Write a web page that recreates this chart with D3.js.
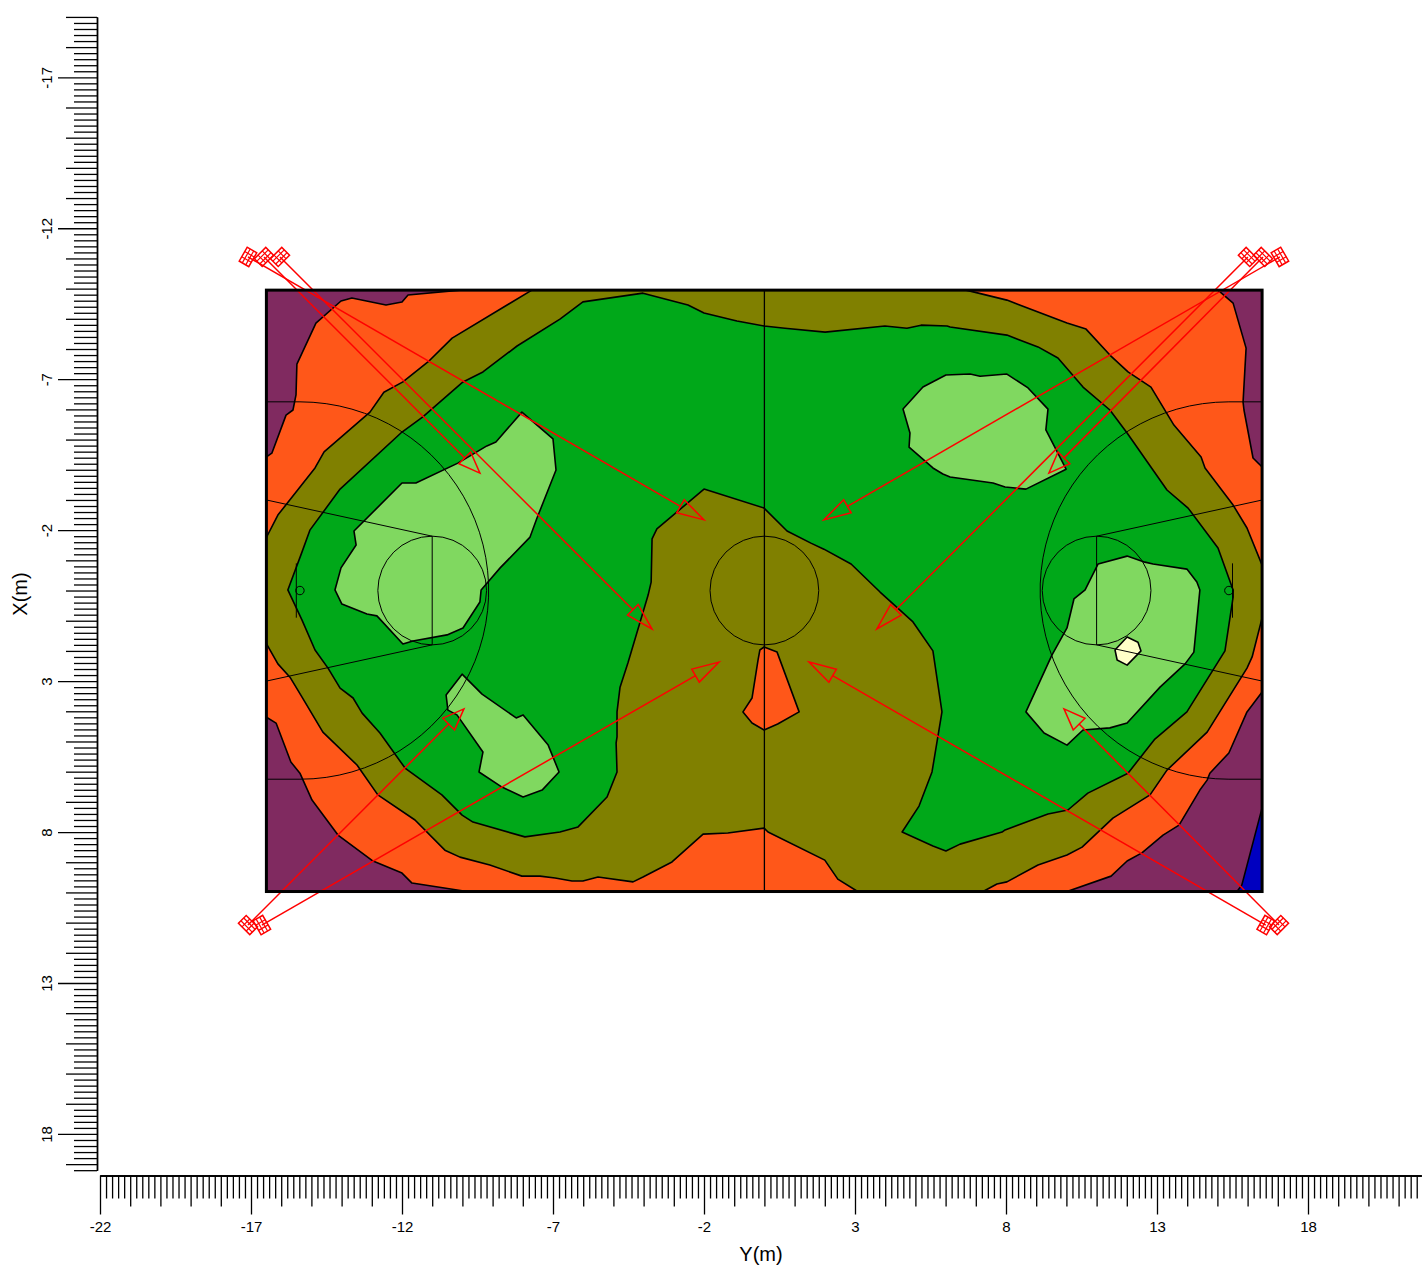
<!DOCTYPE html>
<html><head><meta charset="utf-8">
<script src="https://cdn.jsdelivr.net/npm/d3@7/dist/d3.min.js"></script>
<style>html,body{margin:0;padding:0;background:#fff}svg{display:block}text{font-family:"Liberation Sans",Arial,sans-serif;fill:#000}</style>
</head><body><svg id="c" width="1422" height="1267"></svg>
<script>
// Y(m), X(m) vertices
const fieldY=[-16.49,16.48], fieldX=[-9.95,9.97];
const orangeBand=[[-10.08,-9.95],[-11.80,-9.79],[-12.00,-9.56],[-12.53,-9.46],[-13.66,-9.69],[-14.02,-9.59],[-14.85,-8.86],[-15.48,-7.50],[-15.51,-6.48],[-15.61,-5.98],[-15.84,-5.81],[-16.31,-4.55],[-16.50,-4.42],[-16.50,4.19],[-16.17,4.39],[-15.68,5.68],[-15.38,6.05],[-14.98,6.94],[-14.12,8.10],[-12.96,8.96],[-12.00,9.36],[-11.67,9.69],[-9.85,9.97],[10.02,9.97],[11.48,9.46],[12.01,8.96],[12.50,8.69],[13.20,8.10],[13.73,7.77],[14.42,6.61],[14.66,6.28],[14.75,6.05],[15.38,5.38],[15.98,4.02],[16.48,3.36],[16.48,-4.09],[16.18,-4.39],[15.88,-5.98],[15.85,-6.24],[15.95,-8.03],[15.52,-9.52],[15.02,-9.95]];
const oliveBand=[[-7.70,-9.95],[-10.34,-8.36],[-11.14,-7.57],[-11.97,-6.91],[-12.60,-6.57],[-13.06,-5.91],[-14.58,-4.59],[-14.88,-4.06],[-16.11,-2.50],[-16.50,-1.74],[-16.50,1.74],[-16.11,2.43],[-15.71,2.87],[-15.31,3.53],[-14.62,4.69],[-13.49,5.78],[-12.80,6.77],[-11.57,7.60],[-10.58,8.60],[-10.08,8.83],[-9.09,9.09],[-8.03,9.46],[-7.43,9.46],[-6.93,9.52],[-6.37,9.62],[-6.01,9.62],[-5.51,9.49],[-4.35,9.65],[-4.02,9.49],[-3.06,8.99],[-2.03,8.07],[-1.21,8.03],[-0.01,7.87],[0.12,8.00],[2.00,8.93],[2.43,9.56],[3.09,9.97],[7.24,9.97],[7.70,9.72],[8.03,9.65],[9.06,9.09],[10.02,8.76],[10.52,8.50],[11.54,7.54],[12.77,6.77],[13.33,5.95],[14.66,4.69],[15.98,2.57],[16.15,2.20],[16.48,0.91],[16.48,-0.84],[15.98,-2.07],[15.52,-2.83],[14.59,-4.06],[14.46,-4.42],[13.56,-5.48],[12.80,-6.74],[12.04,-7.24],[11.44,-7.80],[10.65,-8.66],[10.02,-8.86],[8.03,-9.62],[6.68,-9.95]];
const greenBand=[[-6.77,-8.99],[-8.19,-8.10],[-9.32,-7.24],[-9.98,-6.91],[-11.31,-5.75],[-12.00,-5.25],[-14.05,-3.36],[-15.05,-2.00],[-15.31,-1.28],[-15.78,-0.02],[-15.31,0.98],[-14.88,1.97],[-14.45,2.57],[-14.05,3.23],[-13.62,3.56],[-13.32,4.06],[-12.73,4.72],[-11.90,5.88],[-10.68,6.77],[-10.01,7.44],[-9.65,7.67],[-7.93,8.16],[-6.77,8.00],[-6.17,7.83],[-5.21,6.84],[-4.88,6.01],[-4.91,5.05],[-4.88,4.85],[-4.88,4.02],[-4.78,3.20],[-4.52,2.40],[-3.85,0.15],[-3.75,-0.28],[-3.72,-1.71],[-3.56,-2.04],[-2.00,-3.36],[-0.01,-2.73],[0.75,-1.97],[1.54,-1.57],[1.97,-1.37],[2.87,-0.88],[3.83,0.05],[4.92,1.04],[5.58,2.00],[5.88,4.02],[5.55,6.01],[5.12,7.14],[4.56,8.00],[5.58,8.46],[6.01,8.63],[6.48,8.40],[7.87,8.00],[7.97,7.93],[9.39,7.40],[10.05,7.27],[10.71,6.71],[12.04,6.05],[12.93,4.92],[13.99,4.02],[15.25,2.00],[15.52,0.22],[15.52,-0.02],[15.02,-1.41],[14.03,-2.73],[13.33,-3.33],[12.01,-5.22],[11.44,-5.98],[10.55,-6.74],[9.72,-7.70],[9.06,-8.07],[8.03,-8.46],[6.15,-8.73],[6.05,-8.76],[5.19,-8.79],[4.72,-8.69],[3.99,-8.76],[2.01,-8.56],[0.68,-8.69],[-0.01,-8.76],[-0.91,-8.93],[-2.00,-9.19],[-2.53,-9.46],[-4.02,-9.85],[-6.01,-9.56]];
const lightLeft=[[-8.03,-5.91],[-7.00,-5.02],[-6.90,-3.99],[-7.53,-2.40],[-7.76,-1.77],[-8.75,-0.75],[-9.38,-0.02],[-9.42,0.38],[-9.98,1.24],[-10.51,1.47],[-11.64,1.67],[-11.97,1.77],[-12.83,0.84],[-13.16,0.78],[-13.99,0.45],[-14.22,-0.02],[-14.02,-0.75],[-13.52,-1.51],[-13.59,-1.97],[-12.00,-3.56],[-11.54,-3.56],[-10.15,-4.22],[-9.19,-4.79],[-8.89,-4.92]];
const lightLowerLeft=[[-10.01,2.77],[-9.35,3.43],[-8.22,4.22],[-7.99,4.12],[-7.16,5.12],[-6.80,6.01],[-7.36,6.61],[-7.99,6.84],[-8.69,6.51],[-9.45,6.01],[-9.32,5.35],[-10.18,4.12],[-10.48,3.96],[-10.54,3.46]];
const lightUpperRight=[[4.59,-6.01],[5.25,-6.74],[6.01,-7.14],[6.81,-7.17],[7.14,-7.10],[8.03,-7.17],[8.73,-6.71],[9.39,-6.01],[9.32,-5.32],[9.99,-4.02],[8.66,-3.36],[7.97,-3.43],[7.57,-3.56],[6.15,-3.76],[5.91,-3.86],[5.58,-4.06],[4.79,-4.75],[4.82,-5.22]];
const lightRight=[[12.01,-1.14],[12.60,-0.94],[12.87,-0.88],[13.99,-0.71],[14.32,-0.28],[14.42,-0.02],[14.22,2.04],[13.93,2.43],[13.10,3.20],[12.01,4.39],[11.44,4.55],[10.55,4.62],[10.02,5.12],[9.26,4.72],[8.66,4.02],[9.52,2.14],[10.02,1.24],[10.25,0.28],[10.62,-0.02],[11.05,-0.88]];
const paleSpot=[[12.01,1.54],[12.37,1.71],[12.47,2.00],[12.01,2.47],[11.68,2.30],[11.61,1.97]];
const orangeIsland=[[-0.01,1.87],[0.42,2.04],[1.15,4.02],[0.44,4.42],[-0.01,4.62],[-0.41,4.39],[-0.71,4.02],[-0.41,3.56],[-0.21,2.30],[-0.15,1.97]];
const blueCorner=[[16.48,7.20],[15.81,9.75],[15.65,9.97],[16.48,9.97]];
// lamps: position and aiming point
const lampY=[-17.1,-16.57,-16.04,16.01,16.51,17.07,-17.1,-16.64,16.6,17.04];
const lampX=[-11.05,-11.05,-11.05,-11.05,-11.05,-11.05,11.08,11.08,11.08,11.08];
const aimY=[-2.0,-9.42,-3.72,3.72,9.42,1.97,-9.95,-1.5,1.48,9.92];
const aimX=[-2.34,-3.89,1.275,1.275,-3.89,-2.34,3.92,2.37,2.37,3.92];
// axis ticks
const yTickLabels=[-22,-17,-12,-7,-2,3,8,13,18];
const xTickLabels=[-17,-12,-7,-2,3,8,13,18];

const svg=d3.select("#c");
const X=d3.scaleLinear().domain([-22,21.75]).range([100,100+43.75*30.2]);
const Y=d3.scaleLinear().domain([-19,19.2]).range([16.92,16.92+38.2*30.19]);
const line=d3.line().x(d=>X(d[0])).y(d=>Y(d[1]));
const closed=d3.line().x(d=>X(d[0])).y(d=>Y(d[1])).curve(d3.curveLinearClosed);

// field background
svg.append("rect").attr("x",X(fieldY[0])).attr("y",Y(fieldX[0])).attr("width",X(fieldY[1])-X(fieldY[0])).attr("height",Y(fieldX[1])-Y(fieldX[0])).attr("fill","#802A60");

// contour bands
const bands=[[orangeBand,"#FF5719"],[blueCorner,"#0000C0"],[oliveBand,"#808000"],[greenBand,"#00A819"],[orangeIsland,"#FF5719"],[lightLeft,"#80D860"],[lightLowerLeft,"#80D860"],[lightUpperRight,"#80D860"],[lightRight,"#80D860"],[paleSpot,"#FFFFC8"]];
svg.append("g").selectAll("path").data(bands).join("path")
 .attr("d",d=>closed(d[0])).attr("fill",d=>d[1]).attr("stroke","#000").attr("stroke-width",1.6).attr("stroke-linejoin","round");

// court markings
const court=svg.append("g").attr("fill","none").attr("stroke","#000").attr("stroke-width",1);
const arcAngles=d3.range(-90,90.01,4).map(a=>a*Math.PI/180);
[[-1,-15.38],[1,15.38]].forEach(([s,hoop])=>{
  const edge=s*16.49, ft=s*11;
  const arc=arcAngles.map(a=>[hoop-s*6.25*Math.cos(a),6.25*Math.sin(a)]);
  court.append("path").attr("d",line([[edge,-6.25],...arc,[edge,6.25]]));
  court.append("path").attr("d",line([[edge,-3],[ft,-1.8],[ft,1.8],[edge,3]]));
  court.append("circle").attr("cx",X(ft)).attr("cy",Y(0)).attr("r",X(1.8)-X(0));
  court.append("circle").attr("cx",X(hoop)).attr("cy",Y(0)).attr("r",X(0.14)-X(0));
  court.append("path").attr("d",line([[s*15.5,-0.9],[s*15.5,0.9]]));
});
court.append("circle").attr("cx",X(0)).attr("cy",Y(0)).attr("r",X(1.8)-X(0));
court.append("path").attr("d",line([[0,fieldX[0]],[0,fieldX[1]]])).attr("stroke-width",1.3);

// lamps and aiming arrows: head size follows the lamp's throw
const lamps=svg.append("g").attr("fill","none").attr("stroke","#FF0000").attr("stroke-width",1.5);
lampY.forEach((ly,i)=>{
  const x0=X(ly),y0=Y(lampX[i]),x1=X(aimY[i]),y1=Y(aimX[i]);
  const ang=Math.atan2(y1-y0,x1-x0),c=Math.cos(ang),s=Math.sin(ang);
  const throwLen=Math.hypot(x1-x0,y1-y0);
  const headLen=13.5+0.026*throwLen,headHalf=9.4-0.0036*throwLen;
  const bx=x1-c*headLen,by=y1-s*headLen;
  lamps.append("path").attr("d",d3.line()([[x0,y0],[bx,by]]));
  lamps.append("path").attr("d",d3.line().curve(d3.curveLinearClosed)([[x1,y1],[bx-s*headHalf,by+c*headHalf],[bx+s*headHalf,by-c*headHalf]]));
  const g=lamps.append("g").attr("transform",`translate(${x0},${y0}) rotate(${ang*180/Math.PI})`);
  g.append("rect").attr("x",-5.5).attr("y",-8).attr("width",11).attr("height",16);
  [-2,2].forEach(u=>g.append("path").attr("d",d3.line()([[u,-8],[u,8]])).attr("stroke-width",1.2));
  [-3,3].forEach(u=>g.append("path").attr("d",d3.line()([[-5.5,u],[5.5,u]])).attr("stroke-width",1.2));
});

// field border
svg.append("rect").attr("x",X(fieldY[0])).attr("y",Y(fieldX[0])).attr("width",X(fieldY[1])-X(fieldY[0])).attr("height",Y(fieldX[1])-Y(fieldX[0])).attr("fill","none").attr("stroke","#000").attr("stroke-width",3);

// axes
const axisY0=1175.5, axisX0=97;
const isInt=v=>Math.abs(v-Math.round(v))<1e-6;
const isMaj=v=>isInt(v)&&((Math.round(v)+22)%5===0);
const allX=d3.range(0,219).map(i=>-22+i*0.2), allY=d3.range(0,192).map(i=>-19+i*0.2);
function style(g){g.selectAll("line,path").attr("stroke","#000").attr("stroke-width",1.3);g.selectAll("text").attr("font-size",15).attr("fill","#000");}
const bottom=(vals,size,pad)=>d3.axisBottom(X).tickValues(vals).tickSize(size).tickSizeOuter(0).tickPadding(pad);
const left=(vals,size,pad)=>d3.axisLeft(Y).tickValues(vals).tickSize(size).tickSizeOuter(0).tickPadding(pad);
svg.append("g").attr("transform",`translate(0,${axisY0})`).call(bottom(allX.filter(v=>!isInt(v)),23,0).tickFormat("")).call(style);
svg.append("g").attr("transform",`translate(0,${axisY0})`).call(bottom(allX.filter(v=>isInt(v)&&!isMaj(v)),31,0).tickFormat("")).call(style);
svg.append("g").attr("transform",`translate(0,${axisY0})`).call(bottom(yTickLabels,39,7).tickFormat(d3.format("d"))).call(style).selectAll("text").text(d=>d);
svg.append("g").attr("transform",`translate(${axisX0},0)`).call(left(allY.filter(v=>!isInt(v)),23,0).tickFormat("")).call(style);
svg.append("g").attr("transform",`translate(${axisX0},0)`).call(left(allY.filter(v=>isInt(v)&&!isMaj(v)),31,0).tickFormat("")).call(style);
const ly=svg.append("g").attr("transform",`translate(${axisX0},0)`).call(left(xTickLabels,39,6).tickFormat(d3.format("d"))).call(style);
ly.selectAll("text").text(d=>d).attr("transform","rotate(-90)").attr("text-anchor","middle").attr("x",0).attr("y",-45).attr("dy",0);

// axis titles
svg.append("text").attr("x",761).attr("y",1261).attr("text-anchor","middle").attr("font-size",20).text("Y(m)");
svg.append("text").attr("transform","translate(27,594) rotate(-90)").attr("text-anchor","middle").attr("font-size",20).text("X(m)");
</script></body></html>
